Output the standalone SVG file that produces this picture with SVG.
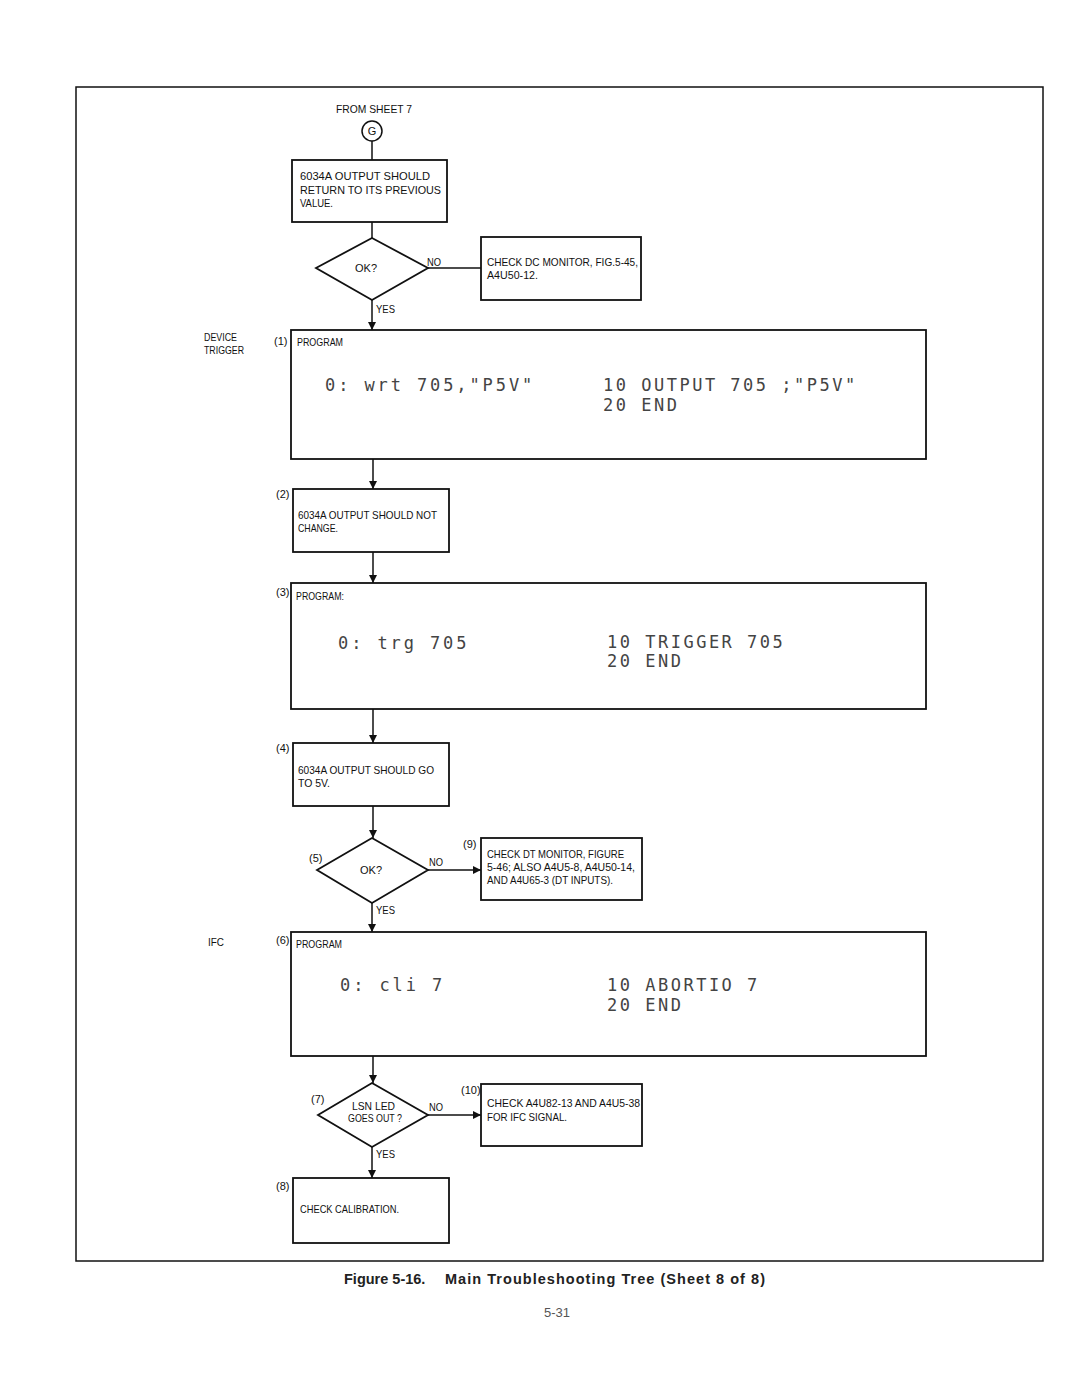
<svg xmlns="http://www.w3.org/2000/svg" width="1080" height="1397" viewBox="0 0 1080 1397">
<defs>
<marker id="arr" viewBox="0 0 10 10" refX="10" refY="5" markerWidth="8" markerHeight="8" markerUnits="userSpaceOnUse" orient="auto">
<path d="M0,0 L10,5 L0,10 z" fill="#111"/>
</marker>
<style>
.box{fill:#fff;stroke:#111;stroke-width:1.8}
.ln{fill:none;stroke:#111;stroke-width:1.5}
.t{font-family:"Liberation Sans",Arial,sans-serif;font-size:11px;fill:#111}
.tm{font-family:"Liberation Sans",Arial,sans-serif;font-size:11px;fill:#111;text-anchor:middle}
.c{font-family:"DejaVu Sans Mono","Liberation Mono",monospace;font-size:17px;fill:#444;letter-spacing:2.9px}
.cap{font-family:"Liberation Sans",Arial,sans-serif;font-size:14.5px;font-weight:bold;fill:#222}
</style>
</defs>
<rect width="1080" height="1397" fill="#fff"/>
<rect x="76" y="87" width="967" height="1174" fill="none" stroke="#111" stroke-width="1.5"/>

<g id="connectors">
<line class="ln" x1="372" y1="141" x2="372" y2="160"/>
<line class="ln" x1="372" y1="222" x2="372" y2="238"/>
<line class="ln" x1="428" y1="268" x2="481" y2="268"/>
<line class="ln" x1="372" y1="300" x2="372" y2="330" marker-end="url(#arr)"/>
<line class="ln" x1="373" y1="459" x2="373" y2="489" marker-end="url(#arr)"/>
<line class="ln" x1="373" y1="552" x2="373" y2="583" marker-end="url(#arr)"/>
<line class="ln" x1="373" y1="709" x2="373" y2="743" marker-end="url(#arr)"/>
<line class="ln" x1="373" y1="806" x2="373" y2="838" marker-end="url(#arr)"/>
<line class="ln" x1="428" y1="870" x2="481" y2="870" marker-end="url(#arr)"/>
<line class="ln" x1="372" y1="903" x2="372" y2="932" marker-end="url(#arr)"/>
<line class="ln" x1="373" y1="1056" x2="373" y2="1083" marker-end="url(#arr)"/>
<line class="ln" x1="428" y1="1115" x2="481" y2="1115" marker-end="url(#arr)"/>
<line class="ln" x1="372" y1="1147" x2="372" y2="1178" marker-end="url(#arr)"/>
<text class="t" x="427" y="266" textLength="14" lengthAdjust="spacingAndGlyphs">NO</text>
<text class="t" x="376" y="313" textLength="19" lengthAdjust="spacingAndGlyphs">YES</text>
<text class="t" x="429" y="866" textLength="14" lengthAdjust="spacingAndGlyphs">NO</text>
<text class="t" x="376" y="914" textLength="19" lengthAdjust="spacingAndGlyphs">YES</text>
<text class="t" x="429" y="1111" textLength="14" lengthAdjust="spacingAndGlyphs">NO</text>
<text class="t" x="376" y="1158" textLength="19" lengthAdjust="spacingAndGlyphs">YES</text>
</g>

<g id="from-sheet">
<text class="t" x="336" y="113" textLength="76" lengthAdjust="spacingAndGlyphs">FROM SHEET 7</text>
<circle cx="372" cy="131" r="10" fill="#fff" stroke="#111" stroke-width="1.5"/>
<text class="tm" x="372" y="135">G</text>
</g>

<g id="box-return">
<rect class="box" x="292" y="160" width="155" height="62"/>
<text class="t" x="300" y="180" textLength="130" lengthAdjust="spacingAndGlyphs">6034A OUTPUT SHOULD</text>
<text class="t" x="300" y="194" textLength="141" lengthAdjust="spacingAndGlyphs">RETURN TO ITS PREVIOUS</text>
<text class="t" x="300" y="207" textLength="33" lengthAdjust="spacingAndGlyphs">VALUE.</text>
</g>

<g id="dec-ok1">
<polygon class="box" points="372,238 428,268 372,300 316,268"/>
<text class="tm" x="366" y="272">OK?</text>
</g>

<g id="box-dcmon">
<rect class="box" x="481" y="237" width="160" height="63"/>
<text class="t" x="487" y="266" textLength="151" lengthAdjust="spacingAndGlyphs">CHECK DC MONITOR, FIG.5-45,</text>
<text class="t" x="487" y="279" textLength="51" lengthAdjust="spacingAndGlyphs">A4U50-12.</text>
</g>

<g id="prog1">
<text class="t" x="204" y="341" textLength="33" lengthAdjust="spacingAndGlyphs">DEVICE</text>
<text class="t" x="204" y="354" textLength="40" lengthAdjust="spacingAndGlyphs">TRIGGER</text>
<text class="t" x="274" y="345">(1)</text>
<rect class="box" x="291" y="330" width="635" height="129"/>
<text class="t" x="297" y="346" textLength="46" lengthAdjust="spacingAndGlyphs">PROGRAM</text>
<text class="c" x="325" y="391">0: wrt 705,"P5V"</text>
<text class="c" x="603" y="391" style="letter-spacing:2.5px">10 OUTPUT 705 ;"P5V"</text>
<text class="c" x="603" y="411" style="letter-spacing:2.5px">20 END</text>
</g>

<g id="box2">
<text class="t" x="276" y="498">(2)</text>
<rect class="box" x="293" y="489" width="156" height="63"/>
<text class="t" x="298" y="519" textLength="139" lengthAdjust="spacingAndGlyphs">6034A OUTPUT SHOULD NOT</text>
<text class="t" x="298" y="532" textLength="40" lengthAdjust="spacingAndGlyphs">CHANGE.</text>
</g>

<g id="prog3">
<text class="t" x="276" y="596">(3)</text>
<rect class="box" x="291" y="583" width="635" height="126"/>
<text class="t" x="296" y="600" textLength="48" lengthAdjust="spacingAndGlyphs">PROGRAM:</text>
<text class="c" x="338" y="649">0: trg 705</text>
<text class="c" x="607" y="648" style="letter-spacing:2.5px">10 TRIGGER 705</text>
<text class="c" x="607" y="667" style="letter-spacing:2.5px">20 END</text>
</g>

<g id="box4">
<text class="t" x="276" y="752">(4)</text>
<rect class="box" x="293" y="743" width="156" height="63"/>
<text class="t" x="298" y="774" textLength="136" lengthAdjust="spacingAndGlyphs">6034A OUTPUT SHOULD GO</text>
<text class="t" x="298" y="787" textLength="32" lengthAdjust="spacingAndGlyphs">TO 5V.</text>
</g>

<g id="dec5">
<text class="t" x="309" y="862">(5)</text>
<polygon class="box" points="372,838 428,870 372,903 317,870"/>
<text class="tm" x="371" y="874">OK?</text>
</g>

<g id="box9">
<text class="t" x="463" y="848">(9)</text>
<rect class="box" x="481" y="838" width="161" height="62"/>
<text class="t" x="487" y="858" textLength="137" lengthAdjust="spacingAndGlyphs">CHECK DT MONITOR, FIGURE</text>
<text class="t" x="487" y="871" textLength="148" lengthAdjust="spacingAndGlyphs">5-46; ALSO A4U5-8, A4U50-14,</text>
<text class="t" x="487" y="884" textLength="126" lengthAdjust="spacingAndGlyphs">AND A4U65-3 (DT INPUTS).</text>
</g>

<g id="prog6">
<text class="t" x="208" y="946" textLength="16" lengthAdjust="spacingAndGlyphs">IFC</text>
<text class="t" x="276" y="944">(6)</text>
<rect class="box" x="291" y="932" width="635" height="124"/>
<text class="t" x="296" y="948" textLength="46" lengthAdjust="spacingAndGlyphs">PROGRAM</text>
<text class="c" x="340" y="991">0: cli 7</text>
<text class="c" x="607" y="991" style="letter-spacing:2.5px">10 ABORTIO 7</text>
<text class="c" x="607" y="1011" style="letter-spacing:2.5px">20 END</text>
</g>

<g id="dec7">
<text class="t" x="311" y="1103">(7)</text>
<polygon class="box" points="372,1083 428,1115 372,1147 318,1115"/>
<text class="t" x="352" y="1110" textLength="43" lengthAdjust="spacingAndGlyphs">LSN LED</text>
<text class="t" x="348" y="1122" textLength="54" lengthAdjust="spacingAndGlyphs">GOES OUT ?</text>
</g>

<g id="box10">
<text class="t" x="461" y="1094">(10)</text>
<rect class="box" x="481" y="1084" width="161" height="62"/>
<text class="t" x="487" y="1107" textLength="153" lengthAdjust="spacingAndGlyphs">CHECK A4U82-13 AND A4U5-38</text>
<text class="t" x="487" y="1121" textLength="80" lengthAdjust="spacingAndGlyphs">FOR IFC SIGNAL.</text>
</g>

<g id="box8">
<text class="t" x="276" y="1190">(8)</text>
<rect class="box" x="293" y="1178" width="156" height="65"/>
<text class="t" x="300" y="1213" textLength="99" lengthAdjust="spacingAndGlyphs">CHECK CALIBRATION.</text>
</g>

<g id="caption">
<text class="cap" x="344" y="1284">Figure 5-16.</text>
<text class="cap" x="445" y="1284" textLength="320">Main Troubleshooting Tree (Sheet 8 of 8)</text>
<text x="557" y="1317" text-anchor="middle" style="font-family:'Liberation Sans',Arial,sans-serif;font-size:13px;fill:#555">5-31</text>
</g>
</svg>
